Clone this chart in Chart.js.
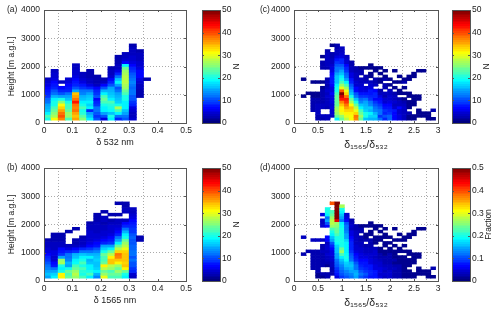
<!DOCTYPE html>
<html>
<head>
<meta charset="utf-8">
<title>Depolarization histograms</title>
<script src="https://cdn.jsdelivr.net/npm/chart.js@4"></script>
<style>
  html, body { margin: 0; padding: 0; background: #fff; overflow: hidden; }
  #wrap { position: relative; width: 500px; height: 315px; }
  canvas { position: absolute; }
</style>
</head>
<body>
<div id="wrap"></div>
<script>
// tick labels
const heightTicks = [0, 1000, 2000, 3000, 4000];
const deltaTicks = [0, 0.1, 0.2, 0.3, 0.4, 0.5];
const ratioTicks = [0, 0.5, 1, 1.5, 2, 2.5, 3];
const countTicks = [0, 10, 20, 30, 40, 50];
const fractionTicks = [0, 0.1, 0.2, 0.3, 0.4, 0.5];

// lower edge of each height row, metres
const heightBins = [100,200,300,400,500,600,700,800,900,1000,1100,1200,1300,1400,1500,1600,1700,1800,1900,2000,2100,2200,2300,2400,2500,2600,2700,2800];
const rowHeight = 100;

// bin centres on the x axis
const deltaBins = [0.0125,0.0375,0.0625,0.0875,0.1125,0.1375,0.1625,0.1875,0.2125,0.2375,0.2625,0.2875,0.3125,0.3375,0.3625];
const ratioBins = [0.2,0.3,0.4,0.5,0.6,0.7,0.8,0.9,1.0,1.1,1.2,1.3,1.4,1.5,1.6,1.7,1.8,1.9,2.0,2.1,2.2,2.3,2.4,2.5,2.6,2.7,2.8,2.9];

// one list per x bin, counted upward from the lowest height row. 0 = empty cell
const countsA = [
  [20,22,18,16,15,14,12,11,9,8,7,6,5,4,3],
  [31,27,25,24,22,20,20,18,15,12,10,8,7,6,5,4,4,3],
  [37,40,38,36,33,31,25,20,14,10,8,6,0,3],
  [22,26,26,24,22,22,20,16,14,12,8,7,6,5,4],
  [36,34,36,38,37,38,43,38,36,34,14,10,8,7,6,5,4,4,3,3],
  [25,23,21,20,22,20,18,16,15,13,12,9,7,5,4,3,3],
  [18,16,14,8,18,17,18,17,16,14,12,8,5,3,3,2,2,2],
  [10,9,10,12,12,9,8,6,10,9,8,6,3,2,2,2],
  [5,10,14,18,18,20,22,24,22,18,15,10,6,3,2],
  [18,20,16,19,20,21,22,18,17,16,15,14,10,8,6,4,3,3,2],
  [8,12,18,22,27,20,17,16,15,14,12,10,14,18,16,12,8,5,3,3,2,2,2],
  [10,12,14,16,18,18,18,20,20,22,24,26,27,28,28,28,27,26,24,18,6,4,3,3],
  [4,3,3,4,5,8,9,10,10,12,12,11,12,13,12,11,10,9,8,6,5,4,4,3,3,3,2],
  [0,0,0,0,0,0,0,0,2,2,2,3,3,4,5,6,6,6,5,4,4,3,3,3,2],
  [0,0,0,0,0,0,0,0,0,0,0,0,0,0,2]
];
const countsB = [
  [14,16,14,13,12,10,9,8,6,5,4,3,3,2],
  [18,17,14,12,7,6,4,4,5,5,3,3,3,2,2,2],
  [32,32,20,18,20,27,26,14,9,7,6,3,3,2,2,2],
  [24,22,24,20,14,15,13,12,12,8,5,3,0,0,0,0,2],
  [26,28,26,24,22,19,18,16,15,9,6,3,2,2,0,0,0,2],
  [22,20,21,22,20,22,20,18,16,12,8,4,3,3,2],
  [18,22,20,18,18,16,15,18,15,12,9,6,5,4,4,4,4,3,3,2],
  [13,15,18,17,16,16,17,16,15,13,10,7,6,5,4,4,3,3,3,3,2,2,2],
  [30,26,24,28,32,24,22,22,24,20,17,14,8,6,5,4,4,3,3,2,3,3,0,2],
  [22,24,22,26,28,34,34,32,28,24,18,14,9,7,6,5,4,4,4,3,2,0,2],
  [22,24,26,24,26,32,34,37,38,33,28,24,18,14,12,8,6,5,4,3,3,0,2,0,0,0,2],
  [18,20,24,32,34,33,34,34,34,33,30,28,26,24,20,18,15,12,8,6,3,0,0,3,3,2,2],
  [3,4,8,9,10,10,12,10,12,12,11,11,10,10,11,10,9,9,8,7,6,5,4,3,3],
  [0,0,0,0,0,0,0,0,0,0,0,0,0,2,2]
];
const countsC = [
  [0,0,0,0,0,0,0,0,1,0,0,0,0,0,1],
  [0,0,0,0,0,0,0,0,0,1],
  [0,0,0,2,2,2,2,2,1,1,0,0,0,1],
  [2,2,3,3,3,3,2,2,1,1,0,0,0,1],
  [2,3,0,0,3,3,2,2,2,2,2,1,0,1,0,0,0,0,2,2,2,0,1],
  [3,3,0,0,2,3,3,3,4,3,4,3,2,3,2,0,0,0,2,3,3,3,3,3,2],
  [0,3,4,4,5,4,5,5,5,6,5,5,6,7,7,7,6,5,5,4,3,3,2,2,0,0,1],
  [18,24,26,27,26,24,24,24,24,22,20,20,18,16,16,16,14,12,12,10,9,7,5,3,3,2,2],
  [24,26,30,32,32,34,37,43,46,50,40,30,26,22,20,18,16,14,12,10,8,8,5,4,3,3],
  [28,30,32,33,36,38,41,43,38,33,30,26,22,18,14,12,11,9,8,6,4,4,3],
  [31,31,32,33,34,31,27,24,20,16,14,12,10,8,7,5,5,3,3,2,2],
  [37,38,33,30,28,24,20,16,12,10,6,6,4,4,3,3,3,2,2],
  [24,26,24,22,18,16,13,11,9,7,5,5,4,3,3,0,2,2,1],
  [16,20,20,17,16,15,14,12,9,7,5,4,0,3,2,2,0,0,1],
  [15,17,18,15,16,13,12,9,8,7,7,5,4,3,0,1,1,0,1,1],
  [15,17,15,13,12,10,9,6,8,8,6,0,3,2,2,0,0,1,1],
  [12,9,12,12,10,9,7,6,5,3,2,0,0,1,1,0,1,0,1],
  [8,10,8,9,7,6,4,4,2,3,0,2,2,0,2,1,0,1],
  [11,11,9,8,7,6,5,4,4,3,3,0,1,0,1],
  [6,6,6,7,4,3,4,3,3,2,0,1,0,1,0,0,0,1],
  [5,5,4,4,6,3,3,2,0,1,1,0,0,1,0,1],
  [3,3,3,3,4,3,2,1,0,1,0,1,0,2,1],
  [1,1,2,0,1,1,1,0,1,1,0,0,0,0,1,1],
  [1,1,0,0,0,1,1,1,1,0,0,0,0,0,0,1,1],
  [0,1,1,1,0,0,0,1,1,0,0,0,0,0,0,0,0,1],
  [0,1,1,0,0,0,0,0,0,0,0,0,0,0,0,0,0,1],
  [1,1,1],
  [1,0,0,2]
];
const fractionD = [
  [0,0,0,0,0,0,0,0,.02,0,0,0,0,0,.03],
  [0,0,0,0,0,0,0,0,0,.02],
  [0,0,0,.02,.02,.02,.02,.02,.02,.02,0,0,0,.03],
  [.01,.01,.02,.02,.02,.02,.02,.02,.02,.02,0,0,0,.03],
  [.01,.02,0,0,.02,.02,.02,.02,.02,.03,.02,.02,0,.03,0,0,0,0,.04,.03,.03,0,.05],
  [.02,.02,0,0,.01,.02,.03,.03,.04,.03,.04,.04,.03,.06,.06,0,0,0,.06,.1,.14,.12,.18,.2,.2],
  [0,.02,.02,.02,.03,.03,.04,.04,.05,.05,.06,.08,.1,.14,.16,.18,.2,.22,.26,.28,.28,.26,.24,.22,0,0,.4],
  [.05,.07,.08,.09,.1,.11,.12,.14,.14,.16,.16,.17,.19,.2,.2,.22,.24,.24,.25,.26,.45,.5,.5,.5,.5,.5,.5],
  [.09,.1,.11,.12,.13,.14,.16,.18,.22,.26,.24,.2,.2,.2,.2,.2,.2,.2,.19,.18,.12,.14,.16,.18,.2,.27],
  [.1,.12,.13,.14,.16,.17,.19,.2,.19,.18,.18,.18,.18,.17,.14,.14,.13,.12,.12,.1,.06,.05,.04],
  [.12,.13,.14,.15,.16,.15,.12,.11,.1,.09,.08,.08,.08,.07,.06,.05,.05,.03,.04,.03,.02],
  [.14,.15,.14,.12,.12,.1,.08,.07,.06,.05,.04,.04,.03,.03,.03,.03,.03,.02,.02],
  [.1,.12,.1,.09,.08,.07,.06,.05,.05,.04,.04,.03,.03,.02,.02,0,.02,.02,.01],
  [.09,.1,.09,.08,.07,.07,.06,.05,.04,.03,.03,.02,0,.02,.01,.01,0,0,.01],
  [.07,.08,.08,.07,.07,.05,.05,.04,.04,.03,.03,.02,.02,.02,0,.01,.01,0,.01,.01],
  [.07,.07,.07,.05,.05,.04,.04,.03,.04,.04,.03,0,.01,.01,.01,0,0,.01,.01],
  [.05,.04,.05,.05,.04,.04,.03,.02,.02,.01,.01,0,0,.01,.01,0,.01,0,.01],
  [.03,.04,.03,.04,.03,.02,.02,.02,.01,.01,0,.01,.01,0,.01,.01,0,.01],
  [.04,.04,.04,.03,.03,.02,.02,.02,.02,.01,.01,0,.01,0,.01],
  [.02,.02,.02,.03,.02,.01,.02,.01,.01,.01,0,.01,0,.01,0,0,0,.01],
  [.02,.02,.02,.02,.02,.01,.01,.01,0,.01,.01,0,0,.01,0,.01],
  [.01,.01,.01,.01,.01,.01,.01,.01,0,.01,0,.01,0,.01,.01],
  [.01,.01,.01,0,.01,.01,.01,0,.01,.01,0,0,0,0,.01,.01],
  [.01,.01,0,0,0,.01,.01,.01,.01,0,0,0,0,0,0,.01,.01],
  [0,.01,.01,.01,0,0,0,.01,.01,0,0,0,0,0,0,0,0,.01],
  [0,.01,.01,0,0,0,0,0,0,0,0,0,0,0,0,0,0,.01],
  [.01,.01,.01],
  [.01,0,0,.02]
];

const FONT = { family: '"Liberation Sans", Arial, sans-serif', size: 8.5 };
const TEXT = '#222';
const wrap = document.getElementById('wrap');

function jet(t) {
  t = Math.round(Math.min(1, Math.max(0, t)) * 63) / 63;
  const c = (d) => Math.round(255 * Math.min(1, Math.max(0, 1.5 - Math.abs(4 * t - d))));
  return `rgb(${c(3)},${c(2)},${c(1)})`;
}

function addCanvas(left, top, w, h) {
  const cv = document.createElement('canvas');
  cv.width = w; cv.height = h;
  cv.style.left = left + 'px'; cv.style.top = top + 'px';
  cv.style.width = w + 'px'; cv.style.height = h + 'px';
  wrap.appendChild(cv);
  return cv;
}

function cellsFrom(bins, cols) {
  const cells = [];
  cols.forEach((col, i) => col.forEach((v, r) => {
    if (v > 0) cells.push({ x: bins[i], y: [heightBins[r], heightBins[r] + rowHeight], v });
  }));
  return cells;
}

// box + inward tick marks, MATLAB look
const framePlugin = {
  id: 'frame',
  afterDraw(chart, args, opts) {
    const { ctx, chartArea: a, scales } = chart;
    ctx.save();
    ctx.strokeStyle = '#555';
    ctx.lineWidth = 1;
    ctx.beginPath();
    scales.y.ticks.forEach((t) => {
      const p = Math.round(scales.y.getPixelForValue(t.value)) + 0.5;
      ctx.moveTo(a.left, p); ctx.lineTo(a.left + 2, p);
      ctx.moveTo(a.right, p); ctx.lineTo(a.right - 2, p);
    });
    if (scales.x.options.display) {
      scales.x.ticks.forEach((t) => {
        const p = Math.round(scales.x.getPixelForValue(t.value)) + 0.5;
        ctx.moveTo(p, a.bottom); ctx.lineTo(p, a.bottom - 2);
        ctx.moveTo(p, a.top); ctx.lineTo(p, a.top + 2);
      });
    }
    ctx.stroke();
    ctx.strokeRect(Math.round(a.left) + 0.5, Math.round(a.top) + 0.5, Math.round(a.right - a.left), Math.round(a.bottom - a.top));
    // panel letter, or the colour bar name reading bottom to top
    ctx.fillStyle = TEXT;
    ctx.font = `${FONT.size}px ${FONT.family}`;
    ctx.textBaseline = 'middle';
    if (opts.letter) {
      ctx.fillText(opts.letter, opts.letterX, a.top);
    }
    if (opts.barName) {
      ctx.translate(a.right + opts.barNameX, (a.top + a.bottom) / 2 );
      ctx.rotate(-Math.PI / 2);
      ctx.textAlign = 'center';
      ctx.fillText(opts.barName, 0, 0);
    }
    ctx.restore();
  }
};
Chart.register(framePlugin);

function fixedTicks(values) {
  return (scale) => { scale.ticks = values.map((value) => ({ value })); };
}

function heatPanel(o) {
  const cv = addCanvas(o.left, o.top, 195, o.h);
  return new Chart(cv, {
    type: 'bar',
    data: {
      datasets: [{
        data: cellsFrom(o.bins, o.cols),
        barThickness: o.barW,
        borderWidth: 0,
        backgroundColor: (ctx) => jet(ctx.raw.v / o.max)
      }]
    },
    options: {
      responsive: false,
      animation: false,
      events: [],
      layout: { padding: { top: 10, right: 7, left: 0, bottom: o.h - 123 - o.xBand } },
      plugins: {
        legend: { display: false }, tooltip: { enabled: false },
        frame: { letter: o.letter, letterX: o.letterX }
      },
      scales: {
        x: {
          type: 'linear', offset: false, min: 0, max: o.xTicks[o.xTicks.length - 1],
          afterBuildTicks: fixedTicks(o.xTicks),
          afterFit: (s) => { s.height = o.xBand; },
          grid: { color: '#aaa', tickLength: 0 },
          border: { dash: [1, 2], color: '#555' },
          ticks: { font: FONT, color: TEXT, padding: 3, maxRotation: 0, autoSkip: false, callback: (v) => String(v) },
          title: { display: true, text: o.xTitle, font: { ...FONT, size: o.xTitleSize }, color: TEXT, padding: { top: 0, bottom: 0 } }
        },
        y: {
          min: 0, max: 4000,
          afterBuildTicks: fixedTicks(heightTicks),
          afterFit: (s) => { s.width = 44; },
          grid: { color: '#aaa', tickLength: 0 },
          border: { dash: [1, 2], color: '#555' },
          ticks: { font: FONT, color: TEXT, padding: 4, autoSkip: false, callback: (v) => String(v) },
          title: { display: !!o.yTitle, text: o.yTitle, font: FONT, color: TEXT, padding: { top: 7, bottom: 0 } }
        }
      }
    }
  });
}

function colorBar(o) {
  const cv = addCanvas(o.left, o.top, 55, o.h);
  return new Chart(cv, {
    type: 'bar',
    data: {
      labels: [''],
      datasets: [{
        data: [[0, o.max]],
        borderWidth: 0,
        barPercentage: 1,
        categoryPercentage: 1,
        backgroundColor: (ctx) => {
          const a = ctx.chart.chartArea;
          if (!a) return '#000';
          const g = ctx.chart.ctx.createLinearGradient(0, a.bottom, 0, a.top);
          for (let i = 0; i < 64; i++) {
            g.addColorStop(i / 64, jet(i / 63));
            g.addColorStop((i + 1) / 64, jet(i / 63));
          }
          return g;
        }
      }]
    },
    options: {
      responsive: false,
      animation: false,
      events: [],
      layout: { padding: { top: 10, left: 7, right: 0, bottom: o.h - 123 } },
      plugins: {
        legend: { display: false }, tooltip: { enabled: false },
        frame: { barName: o.name, barNameX: o.nameX }
      },
      scales: {
        x: { display: false },
        y: {
          position: 'right', min: 0, max: o.max,
          afterBuildTicks: fixedTicks(o.ticks),
          afterFit: (s) => { s.width = 30; },
          grid: { display: false, tickLength: 0 },
          border: { display: false },
          ticks: { font: FONT, color: TEXT, padding: 2, autoSkip: false, callback: (v) => String(v) }
        }
      }
    }
  });
}

const RATIO_TITLE = 'δ₁₅₆₅/δ₅₃₂';
heatPanel({ left: 0, top: 0, h: 158, bins: deltaBins, cols: countsA, max: 50, barW: 7.2, xTicks: deltaTicks, xBand: 25, xTitle: 'δ 532 nm', xTitleSize: 9, yTitle: 'Height [m a.g.l.]', letter: '(a)', letterX: 7 });
heatPanel({ left: 0, top: 158, h: 157, bins: deltaBins, cols: countsB, max: 50, barW: 7.2, xTicks: deltaTicks, xBand: 25, xTitle: 'δ 1565 nm', xTitleSize: 9, yTitle: 'Height [m a.g.l.]', letter: '(b)', letterX: 7 });
heatPanel({ left: 250, top: 0, h: 158, bins: ratioBins, cols: countsC, max: 50, barW: 4.8, xTicks: ratioTicks, xBand: 28, xTitle: RATIO_TITLE, xTitleSize: 10.5, letter: '(c)', letterX: 10 });
heatPanel({ left: 250, top: 158, h: 157, bins: ratioBins, cols: fractionD, max: 0.5, barW: 4.8, xTicks: ratioTicks, xBand: 28, xTitle: RATIO_TITLE, xTitleSize: 10.5, letter: '(d)', letterX: 10 });
colorBar({ left: 195, top: 0, h: 158, max: 50, ticks: countTicks, name: 'N', nameX: 17 });
colorBar({ left: 195, top: 158, h: 157, max: 50, ticks: countTicks, name: 'N', nameX: 17 });
colorBar({ left: 445, top: 0, h: 158, max: 50, ticks: countTicks, name: 'N', nameX: 17 });
colorBar({ left: 445, top: 158, h: 157, max: 0.5, ticks: fractionTicks, name: 'Fraction', nameX: 19 });
</script>
</body>
</html>
